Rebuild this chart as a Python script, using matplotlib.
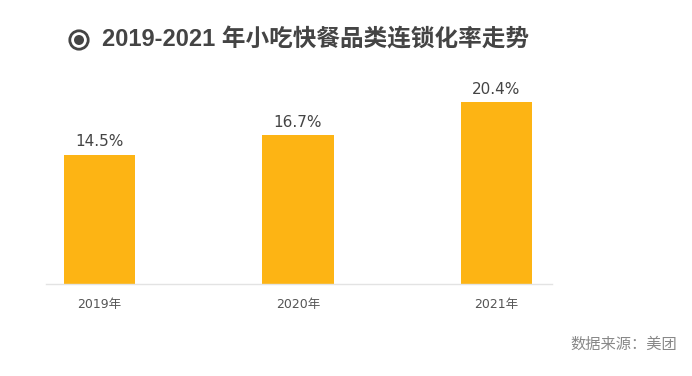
import matplotlib
matplotlib.use("Agg")
from matplotlib import pyplot as plt
from matplotlib.patches import Circle

plt.rcParams['font.family'] = ['Noto Sans CJK SC', 'DejaVu Sans']

#chart data
years = ['2019年', '2020年', '2021年']
rates = [14.5, 16.7, 20.4]
labels = ['14.5%', '16.7%', '20.4%']

W, H = 692, 376
fig = plt.figure(figsize=(W / 100, H / 100), dpi=100)

# axes placed in pixel terms: left 46, right 552, bottom 284, top 80
ax = fig.add_axes([46 / W, 1 - 284 / H, (552 - 46) / W, (284 - 80) / H])
x = list(range(len(years)))
ax.bar(x, rates, width=0.358, color='#FDB414')
ax.set_xlim(-0.27, 2.28)
ax.set_ylim(0, 20.4 * 204 / 182)

for xi, v, lab in zip(x, rates, labels):
    ax.text(xi, v + 0.6, lab, ha='center', va='bottom', fontsize=11, color='#444444',
            family=['DejaVu Sans'])

for s in ['top', 'right', 'left']:
    ax.spines[s].set_visible(False)
ax.spines['bottom'].set_color('#e3e3e3')
ax.spines['bottom'].set_linewidth(1)
ax.set_yticks([])
ax.set_xticks(x)
ax.set_xticklabels(years, fontsize=9, color='#555555', family=['DejaVu Sans', 'Noto Sans CJK SC'])
ax.tick_params(axis='x', length=0, pad=10)

# title icon (in inches so it stays round)
cx, cy = 0.79, (H - 40) / 100
fig.add_artist(Circle((cx, cy), 0.092, transform=fig.dpi_scale_trans,
                      fill=False, edgecolor='#444444', linewidth=2.0))
fig.add_artist(Circle((cx, cy), 0.05, transform=fig.dpi_scale_trans,
                      facecolor='#444444', edgecolor='none'))

fig.text(102 / W, 1 - 40 / H, '2019-2021 年小吃快餐品类连锁化率走势', ha='left', va='center',
         fontsize=17, fontweight='bold', color='#444444',
         family=['Liberation Sans', 'Noto Sans CJK SC'])

fig.text(677 / W, 1 - 344 / H, '数据来源：美团', ha='right', va='center',
         fontsize=11, color='#888888')

fig.savefig('out.png', dpi=100)
